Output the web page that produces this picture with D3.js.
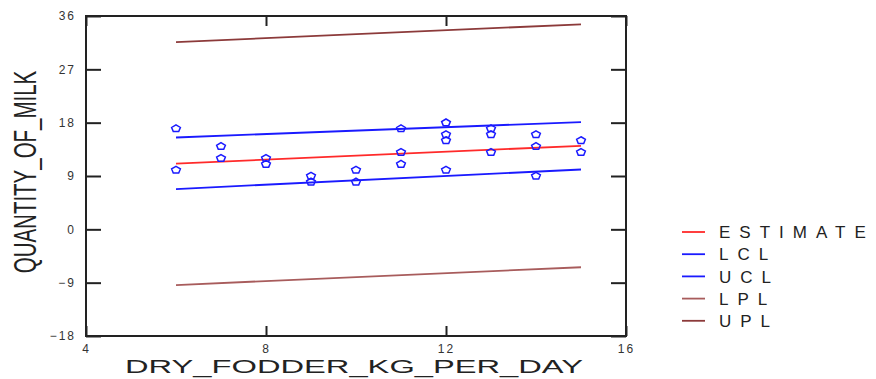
<!DOCTYPE html>
<html>
<head>
<meta charset="utf-8">
<script src="https://cdn.jsdelivr.net/npm/d3@7"></script>
<style>
  body { margin: 0; background: #fff; }
  svg { display: block; font-family: "Liberation Sans", Arial, sans-serif; }
  .axis path { display: none; }
  .axis line { stroke: #222; stroke-width: 2; }
  .axis text { fill: #333; font-size: 12px; letter-spacing: 2px; }
</style>
</head>
<body>
<div id="plot"></div>
<script>
// observations
var fodder = [6, 6, 7, 7, 8, 8, 9, 9, 10, 10, 11, 11, 11, 12, 12, 12, 12, 13, 13, 13, 14, 14, 14, 15, 15];
var milk   = [17, 10, 14, 12, 12, 11, 9, 8, 10, 8, 17, 13, 11, 18, 16, 15, 10, 17, 16, 13, 16, 14, 9, 15, 13];

// fitted line and limits, at the ends of the fitted range
var fitX     = [6, 15];
var estimate = [11.1, 14.1];
var lcl      = [6.8, 10.1];
var ucl      = [15.5, 18.1];
var lpl      = [-9.4, -6.4];
var upl      = [31.6, 34.6];

var seriesNames = ["ESTIMATE", "LCL", "UCL", "LPL", "UPL"];
var xTicks = [4, 8, 12, 16];
var yTicks = [-18, -9, 0, 9, 18, 27, 36];

function zip_data(xData, yData) {
    var data = [];
    for (var i = 0; i < xData.length; i++) {
        data.push({x: xData[i], y: yData[i]});
    }
    return data;
}

var series = [
    {name: seriesNames[0], color: "#ff2a2a", values: zip_data(fitX, estimate)},
    {name: seriesNames[1], color: "#1a1aff", values: zip_data(fitX, lcl)},
    {name: seriesNames[2], color: "#1a1aff", values: zip_data(fitX, ucl)},
    {name: seriesNames[3], color: "#a85c5c", values: zip_data(fitX, lpl)},
    {name: seriesNames[4], color: "#8c3a3a", values: zip_data(fitX, upl)}
];

var width = 876,
    height = 379,
    margin = {left: 86, top: 16, right: 250, bottom: 43},
    g_width = width - margin.left - margin.right,
    g_height = height - margin.top - margin.bottom;

var svg = d3.select("#plot")
    .append("svg")
    .attr("width", width)
    .attr("height", height);

var xScale = d3.scaleLinear()
    .domain([4, 16])
    .range([margin.left, margin.left + g_width]);

var yScale = d3.scaleLinear()
    .domain([-18, 36])
    .range([margin.top + g_height, margin.top]);

// axes, ticks pointing inward
svg.append("g")
    .attr("class", "axis")
    .attr("transform", `translate(${margin.left},0)`)
    .call(d3.axisLeft(yScale).tickValues(yTicks).tickSizeInner(-15).tickSizeOuter(0).tickPadding(10));

svg.append("g")
    .attr("class", "axis")
    .attr("transform", `translate(${margin.left + g_width},0)`)
    .call(d3.axisRight(yScale).tickValues(yTicks).tickSizeInner(-15).tickSizeOuter(0).tickFormat(""));

svg.append("g")
    .attr("class", "axis")
    .attr("transform", `translate(0,${margin.top + g_height})`)
    .call(d3.axisBottom(xScale).tickValues(xTicks).tickSizeInner(-10).tickSizeOuter(0).tickPadding(8));

svg.append("g")
    .attr("class", "axis")
    .attr("transform", `translate(0,${margin.top})`)
    .call(d3.axisTop(xScale).tickValues(xTicks).tickSizeInner(-10).tickSizeOuter(0).tickFormat(""));

// frame
svg.append("rect")
    .attr("x", margin.left)
    .attr("y", margin.top)
    .attr("width", g_width)
    .attr("height", g_height)
    .attr("fill", "none")
    .attr("stroke", "#222")
    .attr("stroke-width", 2);

// lines
var line_generator = d3.line()
    .x(function(d) { return xScale(d.x); })
    .y(function(d) { return yScale(d.y); });

svg.selectAll(".line")
    .data(series)
    .enter()
    .append("path")
    .attr("class", "line")
    .attr("fill", "none")
    .attr("stroke", function(d) { return d.color; })
    .attr("stroke-width", 1.8)
    .attr("d", function(d) { return line_generator(d.values); });

// pentagon markers
var pentagon = {
    draw: function(ctx, size) {
        var r = Math.sqrt(size) / 2;
        for (var k = 0; k < 5; k++) {
            var a = -Math.PI / 2 + k * 2 * Math.PI / 5;
            var px = r * Math.cos(a), py = r * Math.sin(a) * 0.8;
            if (k === 0) ctx.moveTo(px, py); else ctx.lineTo(px, py);
        }
        ctx.closePath();
    }
};

svg.selectAll(".pt")
    .data(zip_data(fodder, milk))
    .enter()
    .append("path")
    .attr("class", "pt")
    .attr("transform", function(d) { return `translate(${xScale(d.x)},${yScale(d.y)})`; })
    .attr("d", d3.symbol().type(pentagon).size(85))
    .attr("fill", "none")
    .attr("stroke", "#1a1aff")
    .attr("stroke-width", 1.5);

// axis titles
svg.append("text")
    .attr("x", 354)
    .attr("y", 373)
    .attr("text-anchor", "middle")
    .attr("font-size", 19)
    .attr("fill", "#222")
    .attr("textLength", 458)
    .attr("lengthAdjust", "spacingAndGlyphs")
    .text("DRY_FODDER_KG_PER_DAY");

// tall narrow y title: squeeze along the text direction
svg.append("text")
    .attr("transform", "translate(36,172) rotate(-90) scale(0.64,1)")
    .attr("text-anchor", "middle")
    .attr("font-size", 32)
    .attr("fill", "#222")
    .text("QUANTITY_OF_MILK");

// legend
var legend = svg.selectAll(".legend")
    .data(series)
    .enter()
    .append("g")
    .attr("class", "legend")
    .attr("transform", function(d, i) { return `translate(682,${232 + i * 22.2})`; });

legend.append("line")
    .attr("x1", 0)
    .attr("x2", 23)
    .attr("stroke", function(d) { return d.color; })
    .attr("stroke-width", 1.8);

legend.append("text")
    .attr("x", 37)
    .attr("dy", "0.36em")
    .attr("font-size", 17)
    .attr("letter-spacing", 9)
    .attr("fill", "#222")
    .text(function(d) { return d.name; });
</script>
</body>
</html>
